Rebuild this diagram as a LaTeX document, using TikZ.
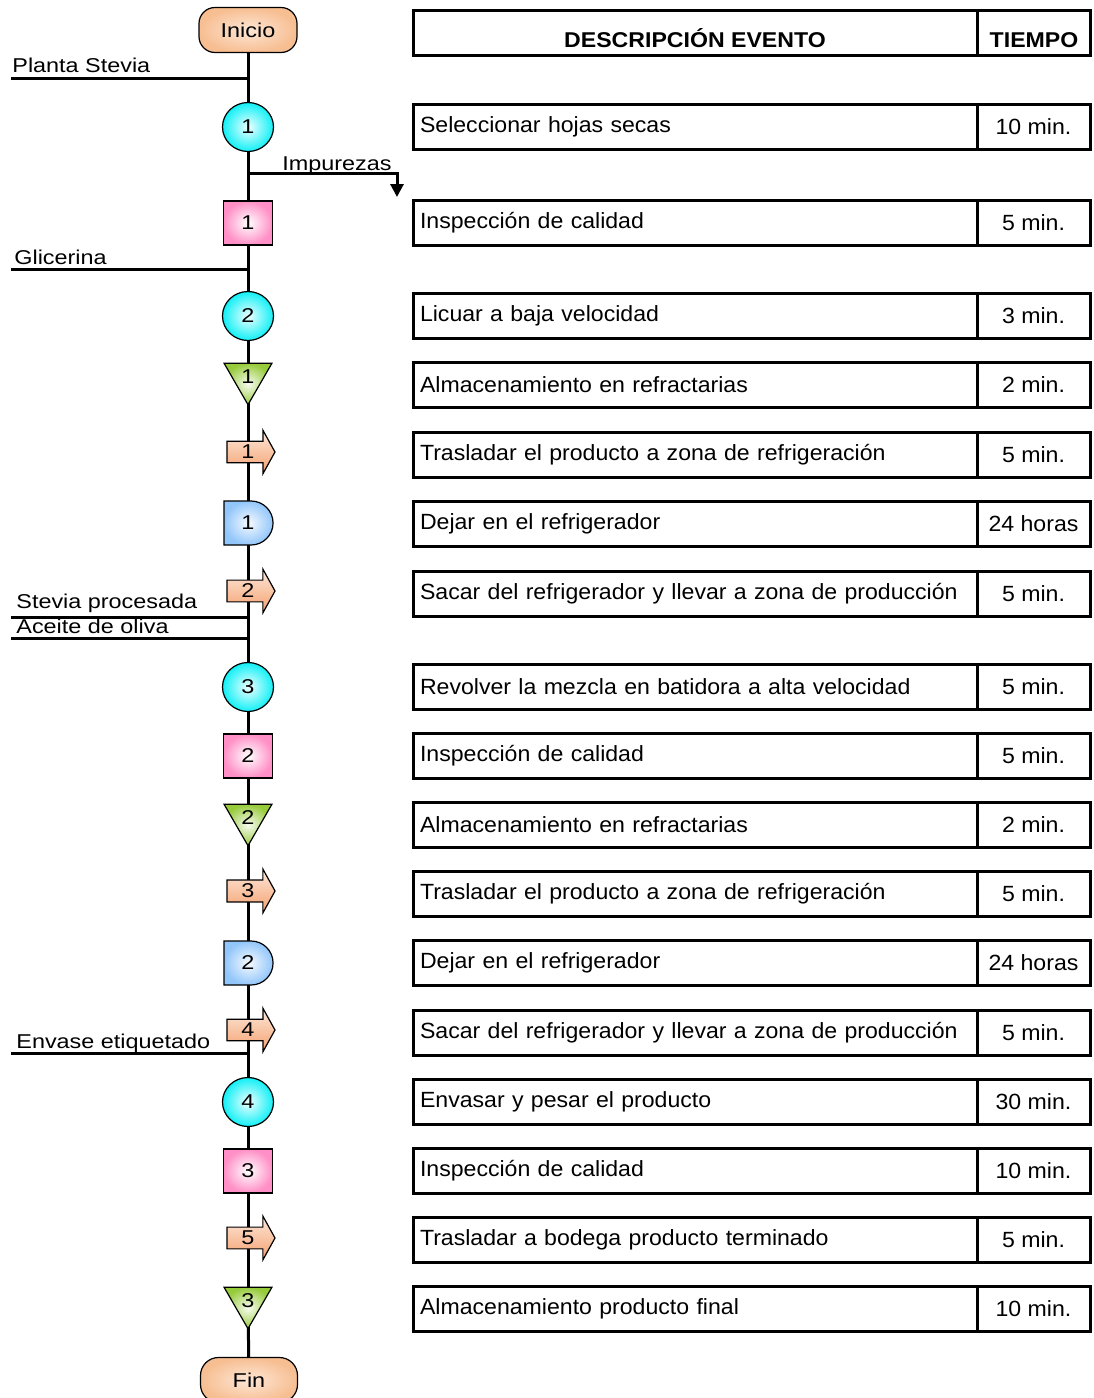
\documentclass[tikz,border=0pt]{standalone}
\usepackage{fontspec}
\setmainfont{Liberation Sans}
\newfontfamily\lblfont[FakeStretch=1.17]{Liberation Sans}
\newfontfamily\tblfont[FakeStretch=1.05]{Liberation Sans}
\newfontfamily\headfont[FakeStretch=1.08]{Liberation Sans}
\usetikzlibrary{shapes.geometric,shapes.arrows,shapes.misc,arrows.meta,backgrounds}

% symbol fills (outer / inner shades)
\definecolor{peachO}{HTML}{F7BE92}
\definecolor{peachI}{HTML}{FDE7D6}
\definecolor{cyanO}{HTML}{10F0F6}
\definecolor{cyanI}{HTML}{EFFFFF}
\definecolor{pinkO}{HTML}{FF8FC6}
\definecolor{pinkI}{HTML}{FFFFFF}
\definecolor{greenO}{HTML}{96CB3A}
\definecolor{greenI}{HTML}{F7FBF0}
\definecolor{blueO}{HTML}{92C6FA}
\definecolor{blueI}{HTML}{F6FAFF}
\definecolor{arrT}{HTML}{FDE8DA}
\definecolor{arrB}{HTML}{F4A06E}

\tikzset{
  flow/.style={line width=1.5pt},
  lbl/.style={inner sep=0pt, font=\lblfont\fontsize{10}{12}\selectfont},
  sym/.style={draw=black, line width=0.6pt, inner sep=0pt,
              font=\lblfont\fontsize{10}{12}\selectfont},
  terminal/.style={sym, rectangle, rounded corners=8pt, minimum width=49pt,
              minimum height=22.5pt, shading=radial, inner color=peachI, outer color=peachO},
  op/.style={sym, ellipse, minimum width=25.5pt, minimum height=24.5pt,
              shading=radial, inner color=cyanI, outer color=cyanO},
  insp/.style={sym, rectangle, minimum width=24.5pt, minimum height=22pt,
              shading=radial, inner color=pinkI, outer color=pinkO},
  store/.style={sym, regular polygon, regular polygon sides=3, shape border rotate=180,
              minimum size=27.7pt, shading=radial, inner color=greenI, outer color=greenO},
  move/.style={sym, single arrow, single arrow head extend=5.5pt, single arrow tip angle=122,
              inner ysep=1.65pt, minimum height=24pt, minimum width=21.5pt,
              top color=arrT, bottom color=arrB},
  wait/.style={sym, rounded rectangle, rounded rectangle left arc=none,
              minimum width=24.5pt, minimum height=22pt,
              shading=radial, inner color=blueI, outer color=blueO},
  cell/.style={draw, line width=1.5pt, minimum height=22.5pt, inner sep=0pt,
              font=\tblfont\fontsize{11}{13}\selectfont},
  desc/.style={cell, minimum width=282pt, text width=275pt, align=left},
  time/.style={cell, minimum width=56.5pt, align=center},
  headtxt/.style={inner sep=0pt, font=\headfont\bfseries\fontsize{10.7}{12}\selectfont},
}

\begin{document}
\begin{tikzpicture}[x=0.5pt,y=-0.5pt]
\useasboundingbox (0,0) rectangle (1093,1398);

% ---- process symbols along the main line ----
\node[terminal] (ini) at (248,30)   {Inicio};
\node[op]       (c1)  at (248,127)  {1};
\node[insp]     (s1)  at (248,223)  {1};
\node[op]       (c2)  at (248,316)  {2};
\node[store]    (t1)  at (248,377)  {1};
\node[move]     (a1)  at (248,452)  {1};
\node[wait]     (d1)  at (248,523)  {1};
\node[move]     (a2)  at (248,591)  {2};
\node[op]       (c3)  at (248,687)  {3};
\node[insp]     (s2)  at (248,756)  {2};
\node[store]    (t2)  at (248,818)  {2};
\node[move]     (a3)  at (248,891)  {3};
\node[wait]     (d2)  at (248,963)  {2};
\node[move]     (a4)  at (248,1030) {4};
\node[op]       (c4)  at (248,1102) {4};
\node[insp]     (s3)  at (248,1171) {3};
\node[move]     (a5)  at (248,1238) {5};
\node[store]    (t3)  at (248,1301) {3};
\node[terminal, rounded corners=9pt, minimum width=48.5pt] (fin) at (249,1380) {Fin};

% ---- main line ----
\begin{scope}[on background layer]
\foreach \u/\v in {ini/c1,c1/s1,s1/c2,c2/t1,t1/a1,a1/d1,d1/a2,a2/c3,c3/s2,s2/t2,
                   t2/a3,a3/d2,d2/a4,a4/c4,c4/s3,s3/a5,a5/t3,t3/fin}
  \draw[flow] (\u.center) -- (\v.center);
\end{scope}

% ---- inputs and output ----
\coordinate (jPS)  at (248,78);   \coordinate (sPS)  at (11,78);
\coordinate (jImp) at (248,173);  \coordinate (eImp) at (397,197);
\coordinate (jGli) at (248,269);  \coordinate (sGli) at (11,269);
\coordinate (jSP)  at (248,617);  \coordinate (sSP)  at (11,617);
\coordinate (jAO)  at (248,638);  \coordinate (sAO)  at (11,638);
\coordinate (jEE)  at (248,1053); \coordinate (sEE)  at (11,1053);

\draw[flow] (sPS) -- (jPS);
\draw[flow,-{Triangle[width=6.5pt,length=6.5pt]}] (jImp) -| (eImp);
\draw[flow] (sGli) -- (jGli);
\draw[flow] (sSP) -- (jSP);
\draw[flow] (sAO) -- (jAO);
\draw[flow] (sEE) -- (jEE);

\node[lbl, anchor=base west] (lPS)  at (12,72.5) {Planta Stevia};
\node[lbl, anchor=base west] (lImp) at (282,170) {Impurezas};
\node[lbl, anchor=base west] (lGli) at (14,264)  {Glicerina};
\node[lbl, anchor=base west] (lSP)  at (16,608)  {Stevia procesada};
\node[lbl, anchor=base west] (lAO)  at (16,633)  {Aceite de oliva};
\node[lbl, anchor=base west] (lEE)  at (16,1048) {Envase etiquetado};

% ---- event table ----
\node[desc] (hd) at (695,32.5) {};
\node[time] (ht) at (1033.5,32.5) {};
\node[headtxt, anchor=base] (hdt) at (695,47)    {DESCRIPCIÓN EVENTO};
\node[headtxt, anchor=base] (htt) at (1034,47)   {TIEMPO};

\foreach \n/\y/\txt/\t in {
  1/127/Seleccionar hojas secas/10 min.,
  2/223/Inspección de calidad/5 min.,
  3/316/Licuar a baja velocidad/3 min.,
  4/385/Almacenamiento en refractarias/2 min.,
  5/455/Trasladar el producto a zona de refrigeración/5 min.,
  6/524/Dejar en el refrigerador/24 horas,
  7/594/Sacar del refrigerador y llevar a zona de producción/5 min.,
  8/687/Revolver la mezcla en batidora a alta velocidad/5 min.,
  9/756/Inspección de calidad/5 min.,
  10/825/Almacenamiento en refractarias/2 min.,
  11/894/Trasladar el producto a zona de refrigeración/5 min.,
  12/963/Dejar en el refrigerador/24 horas,
  13/1033/Sacar del refrigerador y llevar a zona de producción/5 min.,
  14/1102/Envasar y pesar el producto/30 min.,
  15/1171/Inspección de calidad/10 min.,
  16/1240/Trasladar a bodega producto terminado/5 min.,
  17/1309/Almacenamiento producto final/10 min.}
{
  \node[desc] (ev\n) at (695,\y) {\txt};
  \node[time] (tm\n) at (1033.5,\y) {\t};
}
\end{tikzpicture}
\end{document}
